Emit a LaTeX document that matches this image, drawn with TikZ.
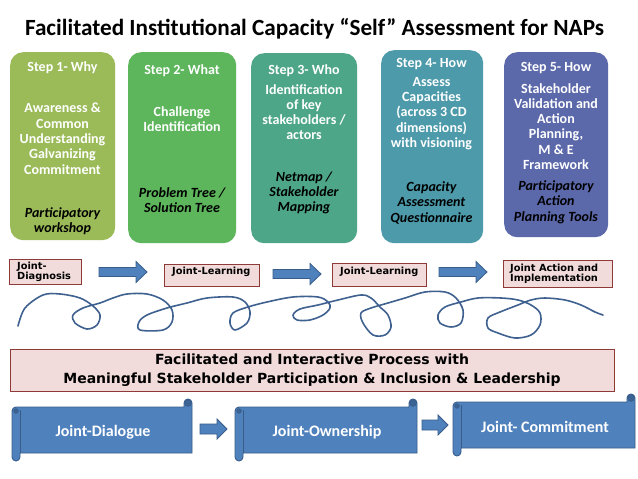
\documentclass[tikz,border=0pt]{standalone}
\usepackage{fontspec}
\setmainfont{Carlito}
\newfontfamily\verdana{DejaVu Sans}

\definecolor{stepA}{HTML}{9BBB59}
\definecolor{stepB}{HTML}{5DB55C}
\definecolor{stepC}{HTML}{4EA688}
\definecolor{stepD}{HTML}{4C9AAA}
\definecolor{stepE}{HTML}{5B68AA}
\definecolor{pinkfill}{HTML}{F2DCDB}
\definecolor{pinkline}{HTML}{8E3A38}
\definecolor{scrollblue}{HTML}{4F81BD}
\definecolor{scrollline}{HTML}{385D8A}
\definecolor{scrolldark}{HTML}{3B6394}
\definecolor{squiggle}{HTML}{3F6190}

\tikzset{
  stepbox/.style={rounded corners=13pt,inner sep=0pt,anchor=north west},
  steptitle/.style={anchor=base,text=white,inner sep=0pt,font=\fontsize{14}{15}\selectfont\bfseries},
  stepbody/.style={anchor=north,align=center,text=white,inner sep=0pt,font=\fontsize{14}{15.3}\selectfont\bfseries},
  steptool/.style={anchor=north,align=center,text=black,inner sep=0pt,font=\fontsize{14}{15.3}\selectfont\bfseries\itshape},
  pinkbox/.style={draw=pinkline,fill=pinkfill,line width=0.8pt,inner sep=0pt,anchor=north west},
  smalltext/.style={anchor=north west,align=left,inner sep=0pt,font=\verdana\bfseries\fontsize{9.8}{10}\selectfont},
  arrowfill/.style={fill=scrollblue,draw=scrollline,line width=0.8pt},
  scrollbody/.style={fill=scrollblue,draw=scrollline,line width=0.9pt},
  scrolltext/.style={text=white,inner sep=0pt,font=\fontsize{16}{18}\selectfont\bfseries}
}

% block arrow: x start, x end, y, shaft half, head half, head length
\newcommand{\blockarrow}[6]{%
  \filldraw[arrowfill] (#1,#3-#4) -- (#2-#6,#3-#4) -- (#2-#6,#3-#5) -- (#2,#3)
    -- (#2-#6,#3+#5) -- (#2-#6,#3+#4) -- (#1,#3+#4) -- cycle;}

% scroll banner: left, right, top, bottom
\newcommand{\scrollbanner}[4]{%
  \filldraw[scrollbody] (#1+4,#3) -- (#2-8,#3) -- (#2-8,#3-4)
    arc[start angle=180,end angle=360,radius=4] -- (#2,#4) -- (#1+8,#4) -- (#1+8,#4+4)
    arc[start angle=0,end angle=180,radius=4] -- (#1,#3+4)
    arc[start angle=180,end angle=270,radius=4] -- cycle;
  \draw[scrollline,line width=0.9pt] (#1+8,#3+3) -- (#1+8,#4);
  \filldraw[fill=scrolldark,draw=scrollline,line width=0.6pt] (#1+4,#3+4) circle (2.3);
  \filldraw[fill=scrolldark,draw=scrollline,line width=0.6pt] (#2-4,#3-4) circle (3.4);}

\begin{document}
\begin{tikzpicture}[x=1pt,y=-1pt]
  \useasboundingbox[fill=white] (0,0) rectangle (638,479);

  \node[anchor=base,inner sep=0pt,font=\fontsize{23.2}{27}\selectfont\bfseries] (title)
    at (314.5,35.4) {Facilitated Institutional Capacity “Self” Assessment for NAPs};

  % the five steps
  \node[stepbox,fill=stepA,minimum width=105pt,minimum height=188pt] (step1) at (10,52) {};
  \node[stepbox,fill=stepB,minimum width=108pt,minimum height=191pt] (step2) at (128,52) {};
  \node[stepbox,fill=stepC,minimum width=106pt,minimum height=190pt] (step3) at (251,53) {};
  \node[stepbox,fill=stepD,minimum width=102pt,minimum height=193pt] (step4) at (381,50) {};
  \node[stepbox,fill=stepE,minimum width=104pt,minimum height=185pt] (step5) at (504,52) {};

  \node[steptitle] (head1) at (62.5,71.5) {Step 1- Why};
  \node[stepbody] (body1) at (62.5,103) {Awareness \&\\Common\\Understanding\\Galvanizing\\Commitment};
  \node[steptool] (tool1) at (62.5,207.5) {Participatory\\workshop};

  \node[steptitle] (head2) at (182,74.5) {Step 2- What};
  \node[stepbody] (body2) at (182,106) {Challenge\\Identification};
  \node[steptool] (tool2) at (182,187.5) {Problem Tree /\\Solution Tree};

  \node[steptitle] (head3) at (304,74.5) {Step 3- Who};
  \node[stepbody] (body3) at (304,84) {Identification\\of key\\stakeholders /\\actors};
  \node[steptool] (tool3) at (304,171.5) {Netmap /\\Stakeholder\\Mapping};

  \node[steptitle] (head4) at (431.5,67.5) {Step 4- How};
  \node[stepbody] (body4) at (431.5,77) {Assess\\Capacities\\(across 3 CD\\dimensions)\\with visioning};
  \node[steptool] (tool4) at (431.5,181.5) {Capacity\\Assessment\\Questionnaire};

  \node[steptitle] (head5) at (556,71.5) {Step 5- How};
  \node[stepbody] (body5) at (556,83) {Stakeholder\\Validation and\\Action\\Planning,\\M \& E\\Framework};
  \node[steptool] (tool5) at (556,180.5) {Participatory\\Action\\Planning Tools};

  % joint steps
  \node[pinkbox,minimum width=72pt,minimum height=25pt] (diag) at (9,259) {};
  \node[smalltext] (diagtxt) at (17,261.5) {Joint-\\Diagnosis};
  \node[pinkbox,minimum width=95pt,minimum height=22pt] (learnA) at (164,264) {};
  \node[smalltext] (learnAtxt) at (172,266.5) {Joint-Learning};
  \node[pinkbox,minimum width=94pt,minimum height=23pt] (learnB) at (332,263) {};
  \node[smalltext] (learnBtxt) at (340,266.5) {Joint-Learning};
  \node[pinkbox,minimum width=109pt,minimum height=27pt] (action) at (503,260) {};
  \node[smalltext] (actiontxt) at (510,263.5) {Joint Action and\\Implementation};

  \blockarrow{99}{147}{272}{4.5}{10.5}{11}
  \blockarrow{273}{321}{274}{4.5}{10.5}{11}
  \blockarrow{439}{487}{272}{4.5}{10.5}{11}

  % the loops
  \draw[squiggle,line width=1.6pt,line cap=round,line join=round] plot[smooth,tension=0.55] coordinates {
    (18,326) (25,308) (43,295) (60,294) (80,298) (93,306) (100,315) (97,325) (87,329)
    (75,323) (73,315) (83,308) (100,303) (113,298) (127,294) (147,294) (163,300) (172,310)
    (172,322) (163,330) (140,330) (139,322) (147,315) (167,308) (187,303) (207,298) (233,297)
    (245,302) (250,312) (247,323) (235,330) (230,323) (233,313) (248,307) (267,302) (293,297)
    (318,297) (328,302) (330,308) (323,315) (310,320) (297,320) (293,315) (300,309) (318,305)
    (338,300) (361,295) (371,298) (380,307) (388,315) (391,327) (385,335) (373,335) (363,323)
    (361,313) (371,308) (388,303) (405,298) (425,292) (445,292) (456,298) (463,310) (461,323)
    (451,327) (440,323) (438,315) (445,307) (461,302) (478,298) (501,298) (518,300) (531,305)
    (540,313) (540,325) (531,335) (515,338) (498,333) (488,328) (488,318) (500,312) (518,305)
    (531,300) (545,298) (565,300) (581,305) (595,312) (603,315)};

  \node[pinkbox,anchor=center,minimum width=604pt,minimum height=42pt,align=center,
    font=\verdana\bfseries\fontsize{14}{19}\selectfont] (process) at (312,370)
    {Facilitated and Interactive Process with\\Meaningful Stakeholder Participation \& Inclusion \& Leadership};

  % scrolls
  \scrollbanner{12}{192}{407}{453}
  \scrollbanner{235}{417}{407}{453}
  \scrollbanner{453}{635}{402}{448}
  \node[scrolltext] (dialogue) at (103,432) {Joint-Dialogue};
  \node[scrolltext] (ownership) at (327,432) {Joint-Ownership};
  \node[scrolltext] (commitment) at (545,427) {Joint- Commitment};

  \blockarrow{200}{227}{429}{5}{10}{10}
  \blockarrow{422}{448}{425}{5}{10}{10}
\end{tikzpicture}
\end{document}
